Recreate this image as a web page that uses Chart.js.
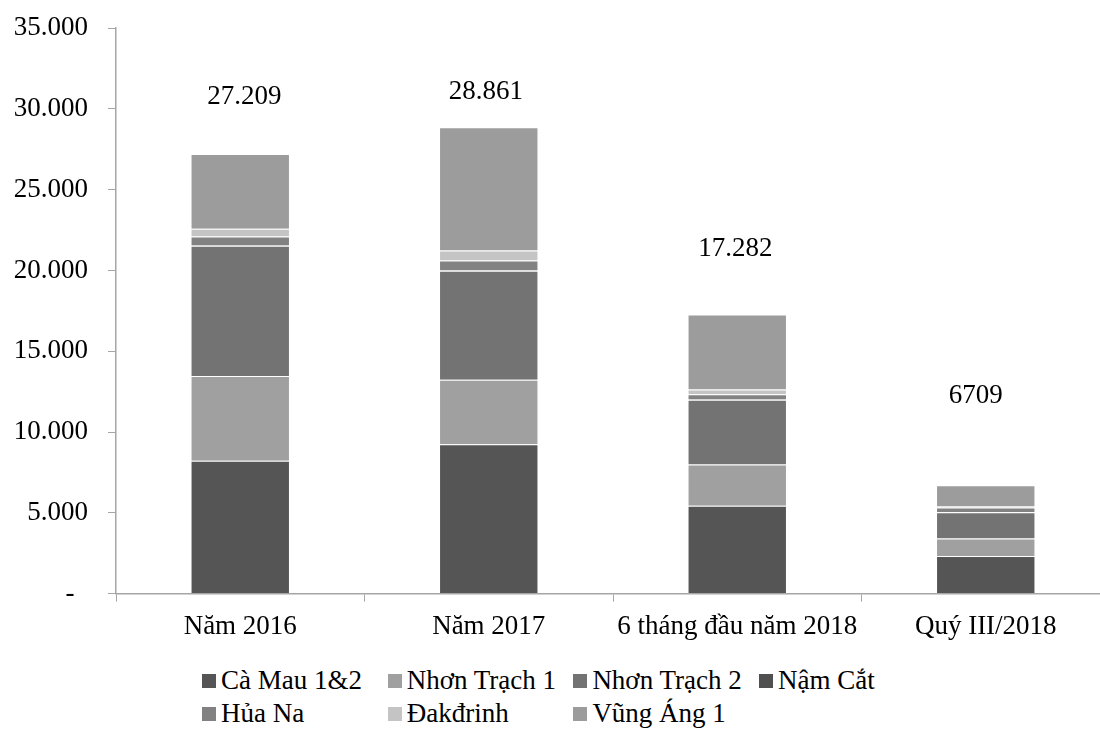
<!DOCTYPE html>
<html>
<head>
<meta charset="utf-8">
<script src="https://cdn.jsdelivr.net/npm/chart.js@4/dist/chart.umd.min.js"></script>
<style>
  html, body { margin: 0; padding: 0; background: #fff; overflow: hidden; }
  #wrap { position: relative; width: 1112px; height: 735px; }
  #box { position: absolute; left: 0; top: -8px; width: 1112px; height: 661px; }
  #legend {
    position: absolute; left: 202px; top: 664px;
    display: grid; grid-template-columns: repeat(4, 185.7px); grid-auto-rows: 33px;
    font-family: "Liberation Serif", serif; font-size: 27px; color: #000;
  }
  #legend div { display: flex; align-items: center; white-space: nowrap; }
  #legend span.sw { width: 14px; height: 14px; margin-right: 5px; flex: none; }
</style>
</head>
<body>
<div id="wrap">
  <div id="box"><canvas id="chart"></canvas></div>
  <div id="legend"></div>
</div>
<script>
const categories = ['Năm 2016', 'Năm 2017', '6 tháng đầu năm 2018', 'Quý III/2018']

const caMau = [8221, 9238, 5431, 2331]
const nhonTrach1 = [5251, 4005, 2567, 1079]
const nhonTrach2 = [8060, 6739, 4005, 1631]
const namCat = [20, 20, 10, 5]
const huaNa = [558, 620, 335, 291]
const dakdrinh = [477, 620, 285, 62]
const vungAng = [4622, 7619, 4649, 1310]

const totalLabels = ['27.209', '28.861', '17.282', '6709']

// where the total labels sit (in axis units, like the hand-placed labels in the original)
const labelAt = [30740, 31050, 21365, 12245]
const labelShift = [4, -3, -2, -10]

const font = '"Liberation Serif", serif'

function makeSet(label, values, color) {
    return {
        label: label,
        data: values,
        backgroundColor: color,
        borderColor: 'rgba(255,255,255,0.22)',
        borderWidth: 1,
        barPercentage: 0.4,
        categoryPercentage: 1.0
    }
}

const totalsPlugin = {
    id: 'totals',
    afterDatasetsDraw(chart) {
        const ctx = chart.ctx
        const meta = chart.getDatasetMeta(0)
        const y = chart.scales.y
        ctx.save()
        ctx.font = '27px ' + font
        ctx.fillStyle = '#000'
        ctx.textAlign = 'center'
        ctx.textBaseline = 'middle'
        totalLabels.forEach((txt, i) => {
            ctx.fillText(txt, meta.data[i].x + labelShift[i], y.getPixelForValue(labelAt[i]))
        })
        ctx.restore()
    }
}

const chart = new Chart('chart', {
    type: 'bar',
    data: {
        labels: categories,
        datasets: [
            makeSet('Cà Mau 1&2', caMau, '#555555'),
            makeSet('Nhơn Trạch 1', nhonTrach1, '#a0a0a0'),
            makeSet('Nhơn Trạch 2', nhonTrach2, '#737373'),
            makeSet('Nậm Cắt', namCat, '#505050'),
            makeSet('Hủa Na', huaNa, '#828282'),
            makeSet('Đakđrinh', dakdrinh, '#c4c4c4'),
            makeSet('Vũng Áng 1', vungAng, '#9c9c9c')
        ]
    },
    options: {
        responsive: true,
        maintainAspectRatio: false,
        animation: false,
        layout: { padding: { left: 0, right: 2, top: 14, bottom: 1 } },
        plugins: {
            legend: { display: false },
            tooltip: { enabled: false }
        },
        scales: {
            x: {
                stacked: true,
                grid: { drawOnChartArea: false, drawTicks: true, tickLength: 8, color: '#a6a6a6' },
                border: { color: '#a6a6a6', width: 1.5 },
                ticks: { color: '#000', font: { family: font, size: 27 }, padding: 9, maxRotation: 0 }
            },
            y: {
                stacked: true,
                min: 0,
                max: 35000,
                afterFit(scale) { scale.width = 116 },
                grid: { drawOnChartArea: false, drawTicks: true, tickLength: 8, color: '#a6a6a6' },
                border: { color: '#a6a6a6', width: 1.5 },
                ticks: {
                    stepSize: 5000,
                    color: '#000',
                    padding: 20,
                    font: { family: font, size: 27 },
                    callback: v => v === 0 ? '-  ' : v.toLocaleString('de-DE')
                }
            }
        }
    },
    plugins: [totalsPlugin]
})

// legend laid out in fixed columns like the original
const legendBox = document.getElementById('legend')
chart.data.datasets.forEach(ds => {
    const item = document.createElement('div')
    item.innerHTML = '<span class="sw" style="background:' + ds.backgroundColor + '"></span>' + ds.label
    legendBox.appendChild(item)
})
</script>
</body>
</html>
